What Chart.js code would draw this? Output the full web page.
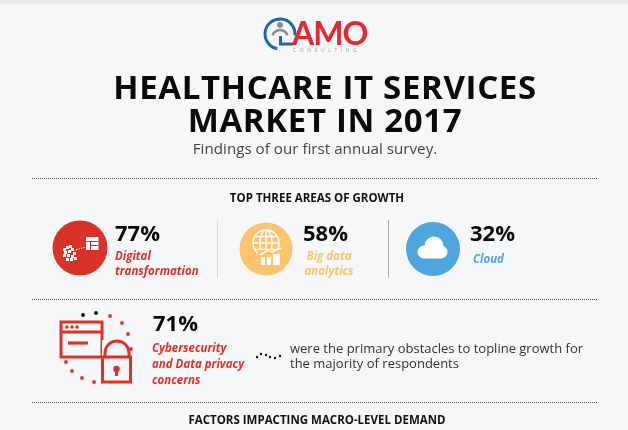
<!DOCTYPE html>
<html>
<head>
<meta charset="utf-8">
<title>Healthcare IT services market in 2017</title>
<script src="https://cdn.jsdelivr.net/npm/chart.js@4"></script>
<style>
    html, body { margin: 0; padding: 0; background: #f6f7f9; overflow: hidden; }
    canvas { display: block; }
</style>
</head>
<body>
<canvas id="infographic" width="628" height="430"></canvas>
<script>
// values
var growthAreas = [['Digital', 'transformation'], ['Big data', 'analytics'], ['Cloud']];
var growthPercents = [77, 58, 32];
var growthColors = ['#d93329', '#fcc46f', '#4ea6de'];
var obstacleLabel = ['Cybersecurity', 'and Data privacy', 'concerns'];
var obstaclePercent = 71;
var obstacleText = ['were the primary obstacles to topline growth for', 'the majority of respondents'];
var titleLines = ['HEALTHCARE IT SERVICES', 'MARKET IN 2017'];
var subtitle = 'Findings of our first annual survey.';
var sectionHeads = ['TOP THREE AREAS OF GROWTH', 'FACTORS IMPACTING MACRO-LEVEL DEMAND'];

// where the circles sit on the (pixel sized) hidden axes
var circleX = [80, 266, 433];
var circleY = [248, 249, 249];
var circleR = [27.5, 26.5, 27];

var FONT = '"Open Sans"';
var RED = '#dc3229';

function text(ctx, str, x, y, font, color, align, spacing) {
    ctx.font = font;
    ctx.fillStyle = color;
    ctx.textAlign = align || 'left';
    ctx.textBaseline = 'middle';
    ctx.letterSpacing = (spacing || 0) + 'px';
    ctx.fillText(str, x, y);
    ctx.letterSpacing = '0px';
}

function rule(ctx, y) {
    ctx.strokeStyle = '#555';
    ctx.lineWidth = 1;
    ctx.setLineDash([1, 1]);
    ctx.beginPath();
    ctx.moveTo(32, y + 0.5);
    ctx.lineTo(598, y + 0.5);
    ctx.stroke();
    ctx.setLineDash([]);
}

function dot(ctx, x, y, r, color) {
    ctx.fillStyle = color;
    ctx.beginPath();
    ctx.arc(x, y, r, 0, Math.PI * 2);
    ctx.fill();
}

function drawLogo(ctx) {
    ctx.strokeStyle = '#1f66a8';
    ctx.lineWidth = 3;
    ctx.beginPath();
    ctx.arc(280, 34, 15, 0.1, 1.75, true);
    ctx.stroke();
    ctx.fillStyle = '#1f66a8';
    ctx.fillRect(279, 36, 3, 9);
    ctx.fillRect(279, 42.5, 14, 3);
    dot(ctx, 280, 25, 3, '#8a8d90');
    ctx.strokeStyle = '#8a8d90';
    ctx.lineWidth = 2.5;
    ctx.beginPath();
    ctx.arc(280, 38, 8, -2.8, -0.35);
    ctx.stroke();
    text(ctx, 'AMO', 292, 35, '700 32px "Lato"', '#e5282d', 'left', -1);
    text(ctx, 'CONSULTING', 293, 50.5, '400 5px ' + FONT, '#9a9da0', 'left', 3.6);
}

function drawDigitalIcon(ctx) {
    // window
    ctx.fillStyle = '#fff';
    ctx.fillRect(86, 237, 12.5, 13);
    ctx.fillStyle = '#d93329';
    ctx.fillRect(90, 241, 1, 9);
    ctx.fillRect(86, 241, 12.5, 1);
    ctx.fillRect(90, 245, 8.5, 1);
    // scattered pixels
    var px = [[63, 248], [66, 246], [69, 245], [64, 251], [68, 250], [71, 248],
        [73, 252], [63, 254], [67, 254], [71, 255], [66, 258], [70, 258], [74, 257]];
    ctx.fillStyle = '#fff';
    px.forEach(function (p) { ctx.fillRect(p[0], p[1], 3, 3); });
    // dotted trail up to the window
    for (var i = 0; i < 4; i++) { ctx.fillRect(76 + i * 2.5, 249 - i * 0.7, 1.2, 1.2); }
}

function drawGlobeIcon(ctx) {
    var x = 266, y = 243, r = 13;
    ctx.strokeStyle = '#fff';
    ctx.lineWidth = 1.3;
    ctx.beginPath();
    ctx.arc(x, y, r, 0, Math.PI * 2);
    ctx.moveTo(x - r, y); ctx.lineTo(x + r, y);
    ctx.moveTo(x, y - r); ctx.lineTo(x, y + r);
    ctx.moveTo(x - 11, y - 6.5); ctx.lineTo(x + 11, y - 6.5);
    ctx.moveTo(x - 11, y + 6.5); ctx.lineTo(x + 11, y + 6.5);
    ctx.moveTo(x + 6, y);
    ctx.ellipse(x, y, 6, r, 0, 0, Math.PI * 2);
    ctx.stroke();
    // bars and trend line on top of the globe
    ctx.fillStyle = '#fcc46f';
    ctx.fillRect(258, 250, 25, 16);
    ctx.fillStyle = '#fff';
    ctx.fillRect(261, 257, 4, 8);
    ctx.fillRect(267, 257, 4, 8);
    ctx.fillRect(273, 254, 7, 11);
    ctx.strokeStyle = '#fff';
    ctx.lineWidth = 1.5;
    ctx.beginPath();
    ctx.moveTo(260, 255); ctx.lineTo(268, 250); ctx.lineTo(272, 252); ctx.lineTo(281, 248);
    ctx.stroke();
}

function drawCloudIcon(ctx) {
    ctx.fillStyle = '#fff';
    ctx.beginPath();
    ctx.arc(424, 252, 6.5, 0, Math.PI * 2);
    ctx.arc(434, 246, 9.5, 0, Math.PI * 2);
    ctx.arc(441, 252, 6.5, 0, Math.PI * 2);
    ctx.fill();
    ctx.fillRect(424, 250, 17, 8.5);
}

function drawSecurityIcon(ctx) {
    ctx.strokeStyle = RED;
    ctx.lineWidth = 3;
    ctx.strokeRect(61, 322, 41, 35);
    ctx.beginPath();
    ctx.moveTo(61, 332); ctx.lineTo(102, 332);
    ctx.stroke();
    [67, 72, 77].forEach(function (x) { dot(ctx, x, 327, 1.8, RED); });
    ctx.lineWidth = 3.2;
    ctx.beginPath();
    ctx.moveTo(68, 343); ctx.lineTo(88, 343);
    ctx.stroke();
    // padlock
    ctx.fillStyle = '#f6f7f9';
    ctx.fillRect(102, 340, 30, 42);
    ctx.lineWidth = 3;
    ctx.strokeRect(102.5, 357, 28, 25);
    ctx.beginPath();
    ctx.moveTo(105, 357);
    ctx.arc(117, 353, 12, Math.PI, 0);
    ctx.lineTo(129, 357);
    ctx.stroke();
    dot(ctx, 116.5, 369, 3.2, RED);
    ctx.fillStyle = RED;
    ctx.fillRect(115, 370, 3, 6);
    // ring of dots
    [[83, 315], [96, 313]].forEach(function (p) { dot(ctx, p[0], p[1], 1.9, '#111'); });
    [[110, 316], [122, 323], [128, 334], [131, 349], [66, 362], [72, 371], [82, 378], [94, 382]]
        .forEach(function (p) { dot(ctx, p[0], p[1], 1.9, RED); });
    // connector to the sentence
    [[257, 357], [261, 354], [266, 355], [270, 357], [275, 358], [280, 356]]
        .forEach(function (p) { dot(ctx, p[0], p[1], 1.2, '#111'); });
}

var infographicPlugin = {
    id: 'infographic',
    beforeDatasetsDraw: function (chart) {
        var ctx = chart.ctx;
        ctx.save();
        ctx.fillStyle = '#e9eaeb';
        ctx.fillRect(0, 0, 628, 4);
        drawLogo(ctx);
        text(ctx, titleLines[0], 325, 90, '700 33px ' + FONT, '#0a0a0a', 'center', 0.65);
        text(ctx, titleLines[1], 325, 123, '700 33px ' + FONT, '#0a0a0a', 'center', 0.65);
        text(ctx, subtitle, 315, 150, '400 15.2px ' + FONT, '#444', 'center');
        rule(ctx, 178);
        text(ctx, sectionHeads[0], 317, 199, '700 11.5px ' + FONT, '#111', 'center');
        ctx.fillStyle = '#d9dadc';
        ctx.fillRect(217, 220, 1, 58);
        ctx.fillStyle = '#a9abae';
        ctx.fillRect(388, 220, 1, 58);
        rule(ctx, 299);
        rule(ctx, 402);
        text(ctx, sectionHeads[1], 317, 421, '700 11.5px ' + FONT, '#111', 'center');
        ctx.restore();
    },
    afterDatasetsDraw: function (chart) {
        var ctx = chart.ctx;
        ctx.save();
        drawDigitalIcon(ctx);
        drawGlobeIcon(ctx);
        drawCloudIcon(ctx);
        drawSecurityIcon(ctx);

        var pctX = [115, 303, 470];
        var bold = '700 22px ' + FONT;
        var label = 'italic 700 11.5px ' + FONT;
        growthPercents.forEach(function (v, i) {
            text(ctx, v + '%', pctX[i], 235, bold, '#0a0a0a');
        });
        text(ctx, growthAreas[0][0], 115, 257, label, growthColors[0]);
        text(ctx, growthAreas[0][1], 115, 272, label, growthColors[0]);
        text(ctx, growthAreas[1][0], 329, 257, label, growthColors[1], 'center');
        text(ctx, growthAreas[1][1], 329, 272, label, growthColors[1], 'center');
        text(ctx, growthAreas[2][0], 473, 260, label, growthColors[2]);

        text(ctx, obstaclePercent + '%', 153, 325, bold, '#0a0a0a');
        obstacleLabel.forEach(function (s, i) {
            text(ctx, s, 152, 349 + i * 16, label, RED);
        });
        obstacleText.forEach(function (s, i) {
            text(ctx, s, 290, 349 + i * 15, '400 13px ' + FONT, '#333');
        });
        ctx.restore();
    }
};

new Chart(document.getElementById('infographic'), {
    type: 'scatter',
    data: {
        datasets: [{
            label: 'Top three areas of growth',
            data: growthPercents.map(function (v, i) {
                return { x: circleX[i], y: circleY[i], percent: v };
            }),
            pointRadius: circleR,
            pointHoverRadius: circleR,
            pointBackgroundColor: growthColors,
            pointBorderWidth: 0
        }]
    },
    options: {
        responsive: false,
        animation: false,
        layout: { padding: 0, autoPadding: false },
        plugins: { legend: { display: false }, tooltip: { enabled: false } },
        scales: {
            x: { display: false, min: 0, max: 628 },
            y: { display: false, min: 0, max: 430, reverse: true }
        }
    },
    plugins: [infographicPlugin]
});
</script>
</body>
</html>
